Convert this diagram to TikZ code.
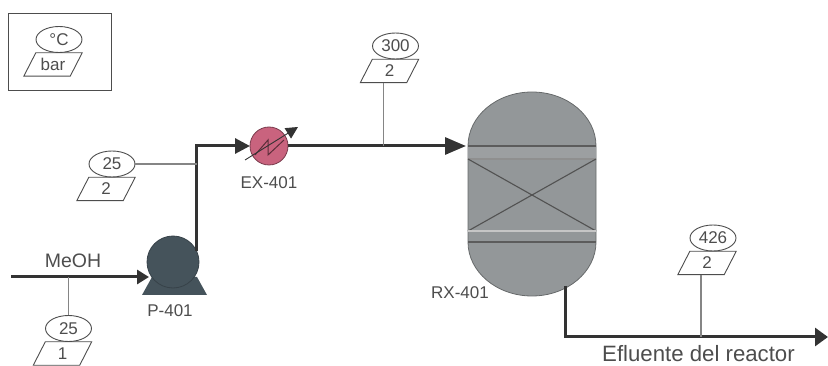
\documentclass[tikz,border=0pt]{standalone}
\usepackage{fontspec}
\setmainfont{Liberation Sans}
\usetikzlibrary{
    arrows.meta,     % For arrow tips
    shapes.geometric % For the ellipses of the stream tags
}

\definecolor{inkgray}{HTML}{4D4D4D}
\definecolor{pipegray}{HTML}{333333}
\definecolor{tapgray}{HTML}{858585}
\definecolor{pumpslate}{HTML}{45535B}
\definecolor{vesselgray}{HTML}{939799}
\definecolor{exchpink}{HTML}{C9637E}

% Stream tag: name, x, y of the ellipse, temperature, pressure
\newcommand{\streamtag}[5]{
    \node[tempbubble] (#1T) at (#2, #3) {#4};
    \node[pressbox] (#1P) at (#2-6, #3+25) {#5};
    \draw[tagoutline] ([xshift=6pt]#1P.north west) -- ([xshift=6pt]#1P.north east)
        -- ([xshift=-6pt]#1P.south east) -- ([xshift=-6pt]#1P.south west) -- cycle;
}

\begin{document}
\begin{tikzpicture}[
    x=1pt, y=-1pt,
    tagoutline/.style={draw=inkgray, line width=0.9pt}, % Style for tag outlines
    tempbubble/.style={ellipse, tagoutline, minimum width=46pt, minimum height=26pt,
        inner sep=0pt, text=inkgray, font=\fontsize{17}{17}\selectfont},
    pressbox/.style={minimum width=46pt, minimum height=23pt, inner sep=0pt,
        text=inkgray, font=\fontsize{17}{17}\selectfont},
    stream/.style={draw=pipegray, line width=3pt}, % Style for process lines
    taptip/.style={draw=tapgray, line width=1.3pt}, % Style for tag leader lines
    tagtext/.style={text=inkgray, inner sep=0pt, font=\fontsize{17}{17}\selectfont},
    bigtip/.style 2 args={-{Triangle[length=#1pt, width=#2pt]}}
]
    \useasboundingbox (0, 0) rectangle (828, 366);

    % Legend box
    \node[draw=inkgray, line width=1pt, minimum width=103pt, minimum height=77pt] (legend) at (59.5, 52.5) {};
    \streamtag{legend}{59}{39.5}{°C}{bar}

    % Points on the process lines
    \coordinate (FeedIn) at (11, 277);
    \coordinate (PumpIn) at (149, 277);
    \coordinate (TapFeed) at (68.5, 277);
    \coordinate (TapPump) at (197, 164);
    \coordinate (TapHeated) at (383.5, 146);
    \coordinate (TapOut) at (701, 337);
    \coordinate (ReactorIn) at (466, 146);
    \coordinate (ReactorOut) at (565, 286);
    \coordinate (OutEnd) at (828, 337);

    % Reactor
    \draw[vesselgray!70!black, fill=vesselgray, line width=0.8pt] (468, 146)
        arc[start angle=180, end angle=0, x radius=64pt, y radius=54pt] -- (596, 242)
        arc[start angle=0, end angle=-180, x radius=64pt, y radius=54pt] -- cycle;
    \fill[vesselgray!92!white] (468, 146) rectangle (596, 159);
    \draw[pipegray!80, line width=1.6pt] (468, 146) -- (596, 146);
    \draw[pipegray!55, line width=1.2pt] (468, 159) -- (596, 159);
    \draw[pipegray!85, line width=1.1pt] (468, 159) -- (596, 231);
    \draw[pipegray!85, line width=1.1pt] (468, 231) -- (596, 159);
    \draw[gray!45, line width=1.6pt] (468, 231) -- (596, 231);
    \draw[pipegray!80, line width=1.6pt] (468, 242) -- (596, 242);

    % Pump
    \fill[pumpslate] (142, 295) -- (152, 277) -- (197, 277) -- (207, 295) -- cycle;
    \node[circle, fill=pumpslate, draw=pumpslate!80!black, line width=0.8pt, minimum size=52pt, inner sep=0pt, outer sep=0pt] (P401) at (173, 262) {};

    % Exchanger
    \node[circle, fill=exchpink, draw=exchpink!60!black, line width=0.8pt, minimum size=38pt, inner sep=0pt, outer sep=0pt] (EX401) at (269, 146) {};
    \draw[exchpink!45!black, line width=1pt] (255, 155) -- (268, 140) -- (268, 155) -- (284, 140);
    \draw[pipegray, line width=0.9pt, -{Triangle[length=12pt, width=12pt]}] (245, 160) -- (298, 127);

    % Process lines
    \draw[stream, bigtip={12}{14}] (FeedIn) -- (PumpIn);
    \draw[stream, bigtip={15}{15}] (P401.25) |- (EX401.west);
    \draw[stream, bigtip={21}{17}] (EX401.east) -- (ReactorIn);
    \draw[stream, bigtip={13}{18}] (ReactorOut) |- (OutEnd);

    % Stream tags
    \streamtag{feed}{68.5}{328.5}{25}{1}
    \streamtag{pumped}{112}{164}{25}{2}
    \streamtag{heated}{395.5}{46}{300}{2}
    \streamtag{effluent}{713}{238}{426}{2}

    % Tag leader lines
    \draw[taptip] (feedT.north) -- (TapFeed);
    \draw[taptip] (pumpedT.east) -- (TapPump);
    \draw[taptip] ([xshift=-6pt]heatedP.south) -- (TapHeated);
    \draw[taptip] ([xshift=-6pt]effluentP.south) -- (TapOut);

    % Labels
    \node[tagtext, font=\fontsize{19.5}{19.5}\selectfont] (MeOH) at (73, 261) {MeOH};
    \node[tagtext] (P401label) at (170, 311) {P-401};
    \node[tagtext] (EX401label) at (269, 183) {EX-401};
    \node[tagtext] (RX401label) at (460, 293) {RX-401};
    \node[tagtext, font=\fontsize{22.2}{22.2}\selectfont] (outlabel) at (698.5, 354) {Efluente del reactor};

\end{tikzpicture}
\end{document}
